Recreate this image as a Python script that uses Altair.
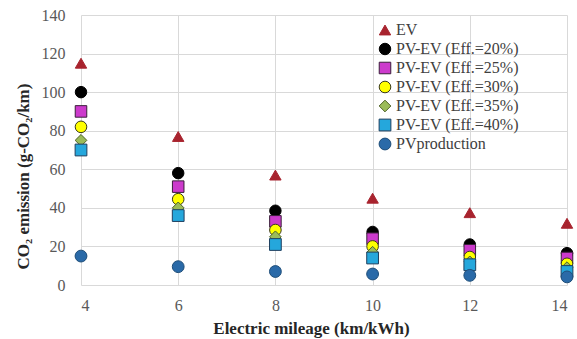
import altair as alt
import pandas as pd

mileage = [4, 6, 8, 10, 12, 14]
series = ["EV", "PV-EV (Eff.=20%)", "PV-EV (Eff.=25%)", "PV-EV (Eff.=30%)",
          "PV-EV (Eff.=35%)", "PV-EV (Eff.=40%)", "PVproduction"]
ev = [115, 77, 57, 45, 37.5, 32]
eff20 = [100, 58, 38.5, 27.5, 21, 16.5]
eff25 = [90, 51, 33, 24, 18, 14]
eff30 = [82, 44.5, 28.5, 20, 14.5, 11]
eff35 = [75, 40, 25, 17, 12, 9]
eff40 = [70, 36, 21, 14, 10.5, 7]
pvprod = [15, 9.5, 7, 5.7, 5, 4.2]

values = [ev, eff20, eff25, eff30, eff35, eff40, pvprod]
rows = []
for s, vals in zip(series, values):
    for x, v in zip(mileage, vals):
        rows.append({"mileage": x, "co2": v, "series": s})
df = pd.DataFrame(rows)

shapes = ["triangle-up", "circle", "square", "circle", "diamond", "square", "circle"]
fills = ["#A8232E", "#000000", "#CC3ACC", "#FFFF00", "#9BBB59", "#25A7DC", "#2A6AA8"]
strokes = ["#A8232E", "#000000", "#3A1F3A", "#3A3A1A", "#4F6228", "#1F3F5F", "#1F4E79"]
sizes = [130, 140, 120, 140, 90, 130, 150]

font = "Liberation Serif"

chart = alt.Chart(df).mark_point(filled=True, opacity=1, strokeWidth=1).encode(
    x=alt.X("mileage:Q", scale=alt.Scale(domain=[4, 14], nice=False),
            axis=alt.Axis(values=mileage, title="Electric mileage (km/kWh)",
                          titleX=230, titleY=48, titleAlign="center",
                          titleBaseline="alphabetic")),
    y=alt.Y("co2:Q", scale=alt.Scale(domain=[0, 140], nice=False),
            axis=alt.Axis(values=[0, 20, 40, 60, 80, 100, 120, 140],
                          title="CO₂ emission (g-CO₂/km)", titleY=161, titleX=-53,
                          titleAlign="center", titleBaseline="alphabetic")),
    color=alt.Color("series:N", sort=series,
                    scale=alt.Scale(domain=series, range=fills),
                    legend=alt.Legend(title=None, orient="none", legendX=296, legendY=7,
                                      symbolSize=80, labelFont=font, labelFontSize=16,
                                      labelColor="#404040", rowPadding=3, labelOffset=3,
                                      symbolStrokeWidth=1, padding=0)),
    shape=alt.Shape("series:N", sort=series,
                    scale=alt.Scale(domain=series, range=shapes)),
    stroke=alt.Stroke("series:N", sort=series,
                      scale=alt.Scale(domain=series, range=strokes)),
    size=alt.Size("series:N", sort=series,
                  scale=alt.Scale(domain=series, range=sizes), legend=None),
    order=alt.Order("order:Q"),
).transform_calculate(
    order="indexof(" + str(series) + ", datum.series)"
).properties(
    width=486, height=270,
    autosize=alt.AutoSizeParams(type="none"),
    padding={"left": 81, "top": 15, "right": 10, "bottom": 54},
).configure(font=font).configure_view(stroke=None).configure_axis(
    grid=True, gridColor="#D9D9D9", gridWidth=1, domain=False, ticks=False,
    labelFont=font, labelFontSize=16, labelColor="#595959",
    titleFont=font, titleFontSize=17, titleFontWeight="bold", titleColor="#262626",
).configure_axisX(labelPadding=12).configure_axisY(labelPadding=16)

chart.save("out.html", embed_options={"renderer": "svg", "actions": False})
